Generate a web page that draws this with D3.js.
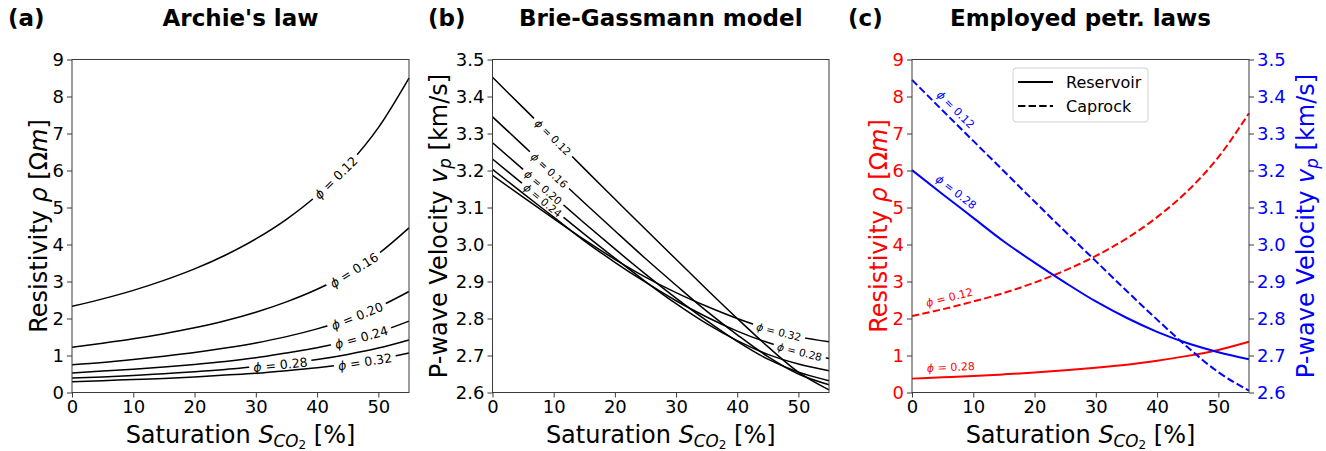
<!DOCTYPE html>
<html><head><meta charset="utf-8">
<script src="https://cdn.jsdelivr.net/npm/d3@7"></script>
<style>body{margin:0;background:#fff} svg{display:block} text{font-family:"DejaVu Sans",sans-serif}</style>
</head><body>
<svg id="chart" width="1326" height="451"></svg>
<script>
// ---------------- data ----------------
const saturation = [0, 5, 10, 15, 20, 25, 30, 35, 40, 45, 50, 55];
const xTicks = [0, 10, 20, 30, 40, 50];
const porosityLabels = ["0.12", "0.16", "0.20", "0.24", "0.28", "0.32"];

// (a) Archie's law resistivity [Ohm m]
const rhoPhi012 = [2.33, 2.53, 2.76, 3.03, 3.34, 3.71, 4.15, 4.68, 5.33, 6.14, 7.16, 8.50];
const rhoPhi016 = [1.22, 1.33, 1.45, 1.59, 1.75, 1.94, 2.17, 2.45, 2.79, 3.21, 3.75, 4.45];
const rhoPhi020 = [0.75, 0.81, 0.89, 0.98, 1.08, 1.20, 1.34, 1.51, 1.72, 1.98, 2.31, 2.73];
const rhoPhi024 = [0.53, 0.58, 0.63, 0.69, 0.76, 0.84, 0.94, 1.07, 1.21, 1.40, 1.63, 1.93];
const rhoPhi028 = [0.39, 0.42, 0.46, 0.51, 0.56, 0.62, 0.70, 0.78, 0.89, 1.03, 1.20, 1.42];
const rhoPhi032 = [0.29, 0.32, 0.35, 0.38, 0.42, 0.47, 0.52, 0.59, 0.67, 0.77, 0.90, 1.07];
const rhoTicks = [0, 1, 2, 3, 4, 5, 6, 7, 8, 9];
const labelSatA = [43.0, 46.0, 46.5, 47.2, 34.0, 47.8];

// (b) Brie-Gassmann P-wave velocity [km/s]
const vpPhi012 = [3.452, 3.370, 3.288, 3.205, 3.123, 3.041, 2.960, 2.879, 2.800, 2.724, 2.655, 2.607];
const vpPhi016 = [3.345, 3.268, 3.190, 3.113, 3.037, 2.962, 2.890, 2.820, 2.756, 2.697, 2.650, 2.621];
const vpPhi020 = [3.275, 3.203, 3.130, 3.058, 2.988, 2.920, 2.855, 2.794, 2.738, 2.690, 2.655, 2.632];
const vpPhi024 = [3.231, 3.163, 3.095, 3.028, 2.963, 2.900, 2.840, 2.786, 2.740, 2.703, 2.677, 2.659];
const vpPhi028 = [3.203, 3.138, 3.074, 3.010, 2.952, 2.898, 2.848, 2.804, 2.766, 2.735, 2.711, 2.692];
const vpPhi032 = [3.187, 3.128, 3.070, 3.013, 2.960, 2.912, 2.870, 2.833, 2.800, 2.772, 2.751, 2.737];
const vpTicks = [2.6, 2.7, 2.8, 2.9, 3.0, 3.1, 3.2, 3.3, 3.4, 3.5];
const labelSatB = [9.9, 9.3, 8.3, 8.2, 50.2, 46.8];

// (c) employed petrophysical laws
const rhoReservoir = [0.375, 0.41, 0.445, 0.49, 0.54, 0.60, 0.67, 0.75, 0.86, 0.99, 1.15, 1.37];
const rhoCaprock   = [2.07, 2.25, 2.46, 2.69, 2.97, 3.30, 3.69, 4.16, 4.74, 5.45, 6.36, 7.55];
const vpReservoir  = [3.201, 3.136, 3.072, 3.008, 2.951, 2.897, 2.846, 2.802, 2.764, 2.733, 2.709, 2.690];
const vpCaprock    = [3.445, 3.362, 3.280, 3.198, 3.116, 3.035, 2.955, 2.875, 2.797, 2.722, 2.655, 2.605];
const legendNames = ["Reservoir", "Caprock"];

const rhoSeries = [rhoPhi012, rhoPhi016, rhoPhi020, rhoPhi024, rhoPhi028, rhoPhi032];
const vpSeries = [vpPhi012, vpPhi016, vpPhi020, vpPhi024, vpPhi028, vpPhi032];

// ---------------- layout ----------------
const svg = d3.select("#chart");
const defs = svg.append("defs");
const plotTop = 59.5, plotBottom = 392.5;
const FONT = "DejaVu Sans, sans-serif";
const RED = "#ff0000", BLUE = "#0000ff", SPINE = "#3a3a3a";
const LABEL_FS = 24;

function interp(xs, ys, s) {
  for (let i = 0; i < xs.length - 1; i++) {
    if (s >= xs[i] && s <= xs[i + 1]) {
      const t = (s - xs[i]) / (xs[i + 1] - xs[i]);
      return ys[i] + t * (ys[i + 1] - ys[i]);
    }
  }
  return s < xs[0] ? ys[0] : ys[ys.length - 1];
}

function rich(sel, parts, fs) {
  let shift = 0;
  parts.forEach(p => {
    const lvl = p.l || 0;
    const size = lvl === 0 ? fs : lvl === 1 ? fs * 0.7 : fs * 0.5;
    const target = lvl === 0 ? 0 : lvl === 1 ? fs * 0.16 : fs * 0.27;
    sel.append("tspan").attr("font-size", size)
      .attr("font-style", p.i ? "italic" : null)
      .attr("dy", target - shift).text(p.t);
    shift = target;
  });
}

function styleAxis(g, color) {
  g.select(".domain").remove();
  g.selectAll(".tick line").attr("stroke", SPINE).attr("stroke-width", 1);
  g.selectAll(".tick text").attr("font-size", 18).attr("font-family", FONT).attr("fill", color || "#000");
}

function makeX(x0, x1) { return d3.scaleLinear().domain([0, 55]).range([x0, x1]); }

function frame(x0, x1) {
  svg.append("rect").attr("x", x0).attr("y", plotTop).attr("width", x1 - x0).attr("height", plotBottom - plotTop)
    .attr("fill", "none").attr("stroke", SPINE).attr("stroke-width", 1);
}

function xAxis(x) {
  const g = svg.append("g").attr("transform", `translate(0,${plotBottom})`)
    .call(d3.axisBottom(x).tickValues(xTicks).tickSize(5).tickPadding(3));
  styleAxis(g);
  const cx = (x.range()[0] + x.range()[1]) / 2;
  const t = svg.append("text").attr("x", cx).attr("y", 443).attr("text-anchor", "middle")
    .attr("font-size", LABEL_FS).attr("font-family", FONT);
  rich(t, [{t: "Saturation "}, {t: "S", i: true}, {t: "CO", i: true, l: 1}, {t: "2", l: 2}, {t: " [%]"}], LABEL_FS);
}

function yLabel(xpos, parts, color) {
  const t = svg.append("text").attr("transform", `translate(${xpos},${(plotTop + plotBottom) / 2}) rotate(-90)`)
    .attr("text-anchor", "middle").attr("font-size", LABEL_FS).attr("font-family", FONT).attr("fill", color || "#000");
  rich(t, parts, LABEL_FS);
}

function title(letter, lx, text, cx) {
  svg.append("text").attr("x", lx).attr("y", 26).attr("font-size", 23).attr("font-weight", "bold")
    .attr("font-family", FONT).text(letter);
  svg.append("text").attr("x", cx).attr("y", 26).attr("text-anchor", "middle").attr("font-size", 23)
    .attr("font-weight", "bold").attr("font-family", FONT).text(text);
}

const line = (x, y) => d3.line().x((d, i) => x(saturation[i])).y(d => y(d)).curve(d3.curveMonotoneX);

function labelGeom(x, y, arr, s) {
  const px = x(s), py = y(interp(saturation, arr, s));
  const ax = x(s - 1.5), ay = y(interp(saturation, arr, s - 1.5));
  const bx = x(s + 1.5), by = y(interp(saturation, arr, s + 1.5));
  const ang = Math.atan2(by - ay, bx - ax) * 180 / Math.PI;
  return {px, py, ang};
}

function inlineLabeled(prefix, x, y, series, sats, fs) {
  series.forEach((arr, k) => {
    const {px, py, ang} = labelGeom(x, y, arr, sats[k]);
    svg.append("path").datum(arr).attr("d", line(x, y)).attr("fill", "none")
      .attr("stroke", "#000").attr("stroke-width", 1.5).attr("mask", `url(#${prefix}${k})`);
    const txt = svg.append("text").attr("transform", `translate(${px},${py}) rotate(${ang})`)
      .attr("text-anchor", "middle").attr("dominant-baseline", "central")
      .attr("font-size", fs).attr("font-family", FONT).attr("fill", "#000");
    rich(txt, [{t: "ϕ", i: true}, {t: " = " + porosityLabels[k]}], fs);
    const w = txt.node().getComputedTextLength() + 8;
    const h = fs * 1.1;
    const m = defs.append("mask").attr("id", `${prefix}${k}`).attr("maskUnits", "userSpaceOnUse")
      .attr("x", 0).attr("y", 0).attr("width", 1326).attr("height", 451);
    m.append("rect").attr("x", 0).attr("y", 0).attr("width", 1326).attr("height", 451).attr("fill", "#fff");
    m.append("rect").attr("x", -w / 2).attr("y", -h / 2).attr("width", w).attr("height", h)
      .attr("transform", `translate(${px},${py}) rotate(${ang})`).attr("fill", "#000");
  });
}

// ---------------- panel (a) ----------------
{
  const x = makeX(72, 409);
  const y = d3.scaleLinear().domain([0, 9]).range([plotBottom, plotTop]);
  inlineLabeled("ma", x, y, rhoSeries, labelSatA, 12.5);
  frame(72, 409);
  const gy = svg.append("g").attr("transform", "translate(72,0)")
    .call(d3.axisLeft(y).tickValues(rhoTicks).tickFormat(d3.format("d")).tickSize(5).tickPadding(3));
  styleAxis(gy);
  xAxis(x);
  yLabel(47, [{t: "Resistivity "}, {t: "ρ", i: true}, {t: " [Ω"}, {t: "m", i: true}, {t: "]"}]);
  title("(a)", 8, "Archie's law", 240.5);
}

// ---------------- panel (b) ----------------
{
  const x = makeX(492.5, 829);
  const y = d3.scaleLinear().domain([2.6, 3.5]).range([plotBottom, plotTop]);
  inlineLabeled("mb", x, y, vpSeries, labelSatB, 10.5);
  frame(492.5, 829);
  const gy = svg.append("g").attr("transform", "translate(492.5,0)")
    .call(d3.axisLeft(y).tickValues(vpTicks).tickFormat(d3.format(".1f")).tickSize(5).tickPadding(3));
  styleAxis(gy);
  xAxis(x);
  yLabel(447, [{t: "P-wave Velocity "}, {t: "v", i: true}, {t: "p", i: true, l: 1}, {t: " [km/s]"}]);
  title("(b)", 428, "Brie-Gassmann model", 660.75);
}

// ---------------- panel (c) ----------------
{
  const x = makeX(912, 1249);
  const yL = d3.scaleLinear().domain([0, 9]).range([plotBottom, plotTop]);
  const yR = d3.scaleLinear().domain([2.6, 3.5]).range([plotBottom, plotTop]);
  const curves = [
    {arr: rhoReservoir, y: yL, color: RED, dash: null, lab: "0.28", s: 6.4},
    {arr: rhoCaprock, y: yL, color: RED, dash: "7.4,3.2", lab: "0.12", s: 6.5},
    {arr: vpReservoir, y: yR, color: BLUE, dash: null, lab: "0.28", s: 6.2},
    {arr: vpCaprock, y: yR, color: BLUE, dash: "7.4,3.2", lab: "0.12", s: 6.0}
  ];
  curves.forEach(c => {
    svg.append("path").datum(c.arr).attr("d", line(x, c.y)).attr("fill", "none")
      .attr("stroke", c.color).attr("stroke-width", 2).attr("stroke-dasharray", c.dash);
    const {px, py, ang} = labelGeom(x, c.y, c.arr, c.s);
    const r = ang * Math.PI / 180;
    const off = 10;
    const tx = px + off * Math.sin(r), ty = py - off * Math.cos(r);
    const txt = svg.append("text").attr("transform", `translate(${tx},${ty}) rotate(${ang})`)
      .attr("text-anchor", "middle").attr("dominant-baseline", "central")
      .attr("font-size", 11).attr("font-family", FONT).attr("fill", c.color);
    rich(txt, [{t: "ϕ", i: true}, {t: " = " + c.lab}], 11);
  });
  frame(912, 1249);
  const gl = svg.append("g").attr("transform", "translate(912,0)")
    .call(d3.axisLeft(yL).tickValues(rhoTicks).tickFormat(d3.format("d")).tickSize(5).tickPadding(3));
  styleAxis(gl, RED);
  const gr = svg.append("g").attr("transform", "translate(1249,0)")
    .call(d3.axisRight(yR).tickValues(vpTicks).tickFormat(d3.format(".1f")).tickSize(5).tickPadding(3));
  styleAxis(gr, BLUE);
  xAxis(x);
  yLabel(887, [{t: "Resistivity "}, {t: "ρ", i: true}, {t: " [Ω"}, {t: "m", i: true}, {t: "]"}], RED);
  yLabel(1314, [{t: "P-wave Velocity "}, {t: "v", i: true}, {t: "p", i: true, l: 1}, {t: " [km/s]"}], BLUE);
  title("(c)", 848, "Employed petr. laws", 1080.5);

  // legend
  const lg = svg.append("g");
  lg.append("rect").attr("x", 1013).attr("y", 68).attr("width", 135).attr("height", 54).attr("rx", 3)
    .attr("fill", "#fff").attr("fill-opacity", 0.8).attr("stroke", "#d0d0d0");
  [null, "7.4,3.2"].forEach((dash, i) => {
    const yy = 82 + i * 24;
    lg.append("line").attr("x1", 1018).attr("x2", 1053).attr("y1", yy).attr("y2", yy)
      .attr("stroke", "#000").attr("stroke-width", 2).attr("stroke-dasharray", dash);
    lg.append("text").attr("x", 1066).attr("y", yy).attr("dominant-baseline", "central")
      .attr("font-size", 16).attr("font-family", FONT).text(legendNames[i]);
  });
}
</script>
</body></html>
